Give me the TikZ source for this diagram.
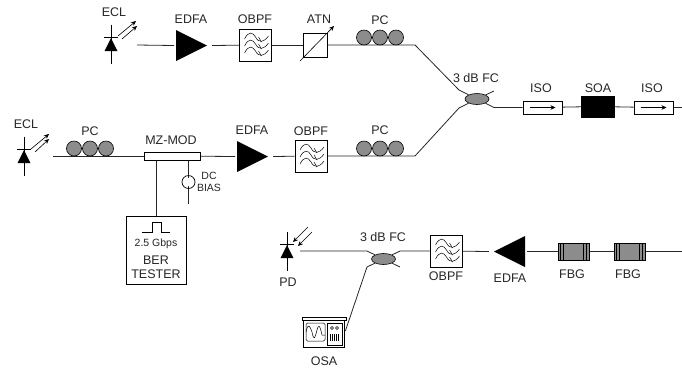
\documentclass[tikz,border=0pt]{standalone}
\usepackage{fontspec}
\setmainfont{Liberation Sans}
\usepackage{xcolor}
\usetikzlibrary{arrows.meta,shapes.geometric,calc,backgrounds}
\definecolor{coilgray}{RGB}{140,140,140}
\newcommand{\lblfont}{\fontsize{12.5}{14}\selectfont}

\begin{document}
\begin{tikzpicture}[
  x=1pt, y=-1pt, font=\lblfont, >={Stealth[length=5pt,width=4.5pt]},
  fiber/.style={line width=0.8pt, black!85},
  lab/.style={inner sep=0pt, align=center, text=black!85},
  edfa/.style={isosceles triangle, isosceles triangle stretches, fill=black, inner sep=0pt, outer sep=2pt, minimum width=31, minimum height=31, shape border rotate=#1, anchor=lower side},
  obpf/.style={draw, line width=0.7pt, fill=white, minimum size=32, inner sep=0pt, path picture={
      \foreach \dy in {-7,0,7} {
        \draw[line width=0.5pt, shift={(path picture bounding box.center)}] (-11,\dy+1) .. controls (-7,\dy-7) and (-3,\dy-6) .. (0,\dy-1) .. controls (3,\dy+5) and (8,\dy+5) .. (13,\dy-2);
        \draw[line width=0.5pt, shift={(path picture bounding box.center)}] (3,\dy-1) -- (6,\dy+4);
      }}},
  iso/.style={draw, line width=0.7pt, fill=white, minimum width=39, minimum height=13, inner sep=0pt, path picture={
      \draw[->, line width=0.6pt, shift={(path picture bounding box.center)}] (-13,0) -- (13,0);}},
  coupler/.style={ellipse, draw, line width=0.6pt, fill=coilgray, minimum width=24, minimum height=11, inner sep=0pt},
  coil/.style={circle, draw, line width=0.6pt, fill=coilgray, minimum size=15, inner sep=0pt},
  fbg/.style={draw, line width=0.7pt, fill=coilgray, minimum width=31, minimum height=17, inner sep=0pt, path picture={
      \foreach \gx in {-13,-10,10,13}
        \draw[line width=0.8pt, shift={(path picture bounding box.center)}] (\gx,-9) -- (\gx,9);}},
  diode/.style={isosceles triangle, isosceles triangle stretches, fill=black, inner sep=0pt, minimum width=13, minimum height=13, shape border rotate=90, anchor=apex},
  ray/.style={->, line width=0.6pt, black},
]
\useasboundingbox (0,0) rectangle (682,368);
% top arm
\coordinate (eclAout) at (137,45);
\node[edfa=0] (edfaA) at (174,45.5) {};
\node[obpf] (obpfA) at (255.5,45) {};
\node[draw, line width=0.7pt, fill=white, minimum size=24, inner sep=0pt] (atn) at (315,45) {};
\coordinate (bendA) at (415,45);
\coordinate (fcAinA) at (459,90);
\coordinate (fcAinB) at (459,108);
\coordinate (bendB) at (415,156);
\node[coupler] (fcA) at (477,99) {};
\coordinate (fcAup) at (494,91);
\coordinate (fcAdown) at (494,107.5);
\node[iso] (isoA) at (542.5,107.5) {};
\node[draw, fill=black, minimum width=33, minimum height=21, inner sep=0pt] (soa) at (597.5,106.5) {};
\node[iso] (isoB) at (653.5,107.5) {};
\coordinate (endA) at (682,107.5);
% middle arm
\coordinate (eclBout) at (53,156);
\node[draw, line width=0.7pt, fill=white, minimum width=56, minimum height=8, inner sep=0pt] (mzmod) at (172,156) {};
\node[edfa=0] (edfaB) at (235,156.5) {};
\node[obpf] (obpfB) at (311,156) {};
\node[draw, line width=0.7pt, fill=white, minimum width=60.5, minimum height=68, inner sep=0pt] (ber) at (156.5,250) {};
\node[circle, draw, line width=0.7pt, minimum size=13, inner sep=0pt] (bias) at (188.5,182) {};
\coordinate (biasend) at (188.5,204);
% bottom arm
\coordinate (pdin) at (300,251);
\node[coupler] (fcB) at (383.5,259) {};
\coordinate (fcBinA) at (367,251);
\coordinate (fcBinB) at (367,267);
\coordinate (fcBup) at (400,251);
\coordinate (fcBdown) at (400,267);
\node[obpf] (obpfC) at (446.5,251) {};
\node[edfa=180] (edfaC) at (527,251.5) {};
\node[fbg] (fbgA) at (573.5,251.5) {};
\node[fbg] (fbgB) at (629.5,251.5) {};
\coordinate (endB) at (682,251.5);
\node[draw, line width=0.7pt, minimum width=41, minimum height=27, inner sep=0pt] (osa) at (323.5,333.5) {};
% fibers
\begin{scope}[on background layer]
\draw[fiber] (eclAout) -- (edfaA.lower side);
\draw[fiber] (edfaA.apex) -- (obpfA);
\draw[fiber] (obpfA) -- (atn);
\draw[fiber] (atn) -- (bendA) -- (fcAinA) -- (fcA);
\draw[fiber] (eclBout) -- (mzmod);
\draw[fiber] (mzmod) -- (edfaB.lower side);
\draw[fiber] (edfaB.apex) -- (obpfB);
\draw[fiber] (obpfB) -- (bendB) -- (fcAinB) -- (fcA);
\draw[fiber] (fcA) -- (fcAup);
\draw[fiber] (fcA) -- (fcAdown) -- (isoA);
\draw[fiber] (isoA) -- (soa);
\draw[fiber] (soa) -- (isoB);
\draw[fiber] (isoB) -- (endA);
\draw[fiber] (ber.north |- mzmod.south) -- (ber.north);
\draw[fiber] (bias.north |- mzmod.south) -- ($(bias.north)+(0,2.5)$);
\draw[fiber] ($(bias.south)+(0,-2.5)$) -- (biasend);
\draw[fiber] (pdin) -- (fcBinA) -- (fcB);
\draw[fiber] (fcB) -- (fcBup) -- (obpfC);
\draw[fiber] (fcB) -- (fcBdown);
\draw[fiber] (fcB) -- (fcBinB) -- ($(osa.east)+(1,-2.5)$);
\draw[fiber] (obpfC) -- (edfaC.apex);
\draw[fiber] (edfaC.lower side) -- (fbgA);
\draw[fiber] (fbgA) -- (fbgB);
\draw[fiber] (fbgB) -- (endB);
\end{scope}
% polarisation coils
\foreach \coilname/\cx/\cy in {a/364/37.5, b/380/37.5, c/396/37.5, d/364/148.5, e/380/148.5, f/396/148.5, g/74/148.5, h/90/148.5, i/106/148.5}
  \node[coil] (coil\coilname) at (\cx,\cy) {};
% attenuator arrow
\draw[->, line width=0.6pt] (300,61) -- (334,26);
% diodes
\foreach \dname/\dx/\dy in {A/111/44, B/24/156, C/287/251} {
  \node[diode] (diode\dname) at (\dx,\dy-6.5) {};
  \draw[line width=0.7pt] (\dx,\dy-19.5) -- (\dx,\dy+19.5);
  \draw[line width=0.7pt] (\dx-7,\dy-6.5) -- (\dx+7,\dy-6.5);
}
\draw[ray] (118,36) -- (136,21);
\draw[ray] (122,39) -- (137,26);
\draw[ray] (31,149) -- (49,134);
\draw[ray] (35,152) -- (49,139);
\draw[ray] (308,227) -- (293,242);
\draw[ray] (312,232) -- (298,246);
% pulse in tester
\draw[line width=0.6pt] (142,232) -- (152,232) -- (152,222) -- (161,222) -- (161,232) -- (170,232);
% analyser front
\draw[line width=0.7pt] (302,317) rectangle (346,320);
\draw[line width=0.5pt, rounded corners=1.5pt] (306,323) rectangle (325,341);
\draw[line width=0.5pt] (327,323) rectangle (342,345);
\draw[line width=0.5pt] (306,332) .. controls (308,322) and (310,326) .. (312,332) .. controls (314,342) and (315,338) .. (317,330) .. controls (319,323) and (320,326) .. (322,335) -- (325,335);
\foreach \kx in {332,337}
  \draw[line width=0.5pt] (\kx,328) circle (1.5);
\foreach \kx in {330.5,332.5,334.5,336.5,338.5}
  \draw[line width=0.9pt] (\kx,334) -- (\kx,341);
% labels
\foreach \lname/\lx/\ly/\ltext in {a/114/12/ECL, b/191/19/EDFA, c/255/19/OBPF, d/319/19/ATN, e/380/20/PC,
    f/476/78/3 dB FC, g/541/88/ISO, h/598/88/SOA, i/652/88/ISO,
    j/26/124/ECL, k/90/131/PC, l/171/140/MZ-MOD, m/252/130/EDFA, n/311/131/OBPF, o/380/130/PC,
    p/383/237/3 dB FC, q/288/282/PD, r/446/276/OBPF, s/510/278/EDFA, t/572/274/FBG, u/628/274/FBG, v/324/361/OSA}
  \node[lab] (lab\lname) at (\lx,\ly) {\ltext};
\node[lab, font=\fontsize{10.5}{12}\selectfont] (labdc) at (209,182) {DC\\BIAS};
\node[lab] (labber) at (156,267.5) {BER\\TESTER};
\node[lab, font=\fontsize{10.5}{12}\selectfont] (labrate) at (156,244) {2.5 Gbps};
\end{tikzpicture}
\end{document}
